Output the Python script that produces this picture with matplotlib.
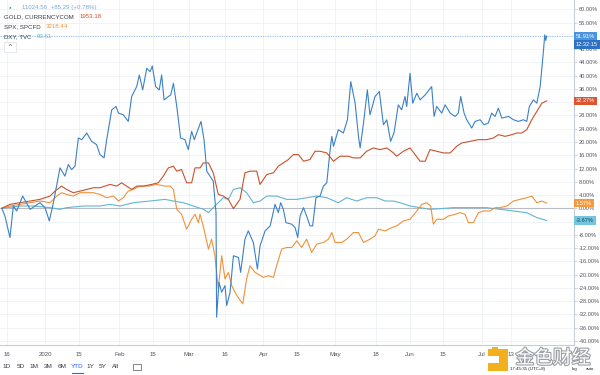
import matplotlib
matplotlib.use("Agg")
import matplotlib.pyplot as plt
import matplotlib.patheffects as pe
from matplotlib.patches import Rectangle
import numpy as np
import pandas as pd

plt.rcParams['font.family'] = ['Liberation Sans', 'DejaVu Sans', 'Noto Sans CJK SC']

BASE = pd.Timestamp('2020-01-01')

# ---- data: day offsets from 2020-01-01, percent change since start ----
btc_day = [-18, -16.7, -14.6, -13.2, -11.8, -9.3, -6.2, -2.1, 0, 1.8, 3.5, 6.25, 8.3, 9.7, 11.1, 12.5,
           13.9, 15.3, 17.4, 19.4, 21.5, 22.9, 24.6, 25.7, 27.8, 29.6, 30.6, 32.6, 34.7, 36.1, 38.2,
           39.3, 40.7, 42.4, 43.8, 44.7, 46.1, 47.6, 48.6, 49.6, 51.4, 52.4, 53.5, 54.9, 56.5, 58.3,
           59.7, 61.1, 62.2, 63.2, 65, 66.25, 67.4, 68.75, 70.1, 71.25, 71.5, 72.5, 73.6, 75, 75.7,
           77.1, 78.5, 80.6, 81.5, 83.3, 84.7, 86.8, 88.5, 89.6, 91.7, 93.8, 95.85, 97.2, 98.2, 99.3,
           100.4, 102.8, 104.2, 105.3, 106.3, 107.7, 109.0, 110.4, 111.5, 112.9, 114.6, 116.0, 117.4,
           118.8, 119.5, 120.2, 122.2, 124.3, 126.0, 127.4, 129.2, 130.6, 131.3, 132.7, 134.3, 135.4,
           137.5, 139.3, 141.0, 142.4, 144.0, 145.4, 147.2, 148.6, 150.0, 150.7, 152.1, 153.2, 154.9,
           156.3, 158.4, 161.1, 162.1, 163.2, 165.3, 166.7, 168.8, 170.9, 172.2, 173.2, 174.6, 175.7,
           177.8, 179.2, 181.3, 182.9, 184.7, 186.1, 187.5, 188.9, 190.3, 193.1, 195.2, 197.2, 199.3,
           200.7, 201.8, 203.5, 204.9, 206.3, 207.7, 208.2, 208.6, 209.0]
btc_pct = [0, -2.3, -8.8, 0.7, -0.8, 3.7, -0.3, 1.7, 0.2, -3.8, 1.7, 12.2, 9.7, 13.2, 11.7, 12.7,
           21.2, 20.7, 22.7, 20.2, 19.2, 16.2, 15.2, 20.7, 29.7, 30.7, 28.7, 28.2, 26.2, 33.7, 36.7,
           40.2, 35.7, 42.2, 41.2, 42.9, 36.7, 35.7, 40.2, 32.7, 33.7, 34.2, 37.7, 30.7, 21.2, 20.7,
           17.7, 23.2, 20.7, 22.7, 26.2, 20.7, 11.2, 9.7, 8.2, -1.3, -32.8, -22.3, -25.3, -23.3, -29.3,
           -25.3, -14.3, -14.8, -19.3, -9.3, -6.8, -10.3, -18.3, -11.3, -6.8, -5.3, 1.2, -1.3, 1.7, -0.3,
           -4.3, -4.8, -5.8, -8.8, -2.3, 0.2, -2.3, -5.3, -5.3, 3.2, 3.7, 6.7, 7.7,
           17.7, 21.7, 18.7, 23.7, 22.7, 26.7, 38.2, 31.7, 21.7, 18.2, 25.7, 35.7, 28.2,
           33.7, 35.2, 25.2, 26.7, 20.2, 22.7, 31.2, 29.7, 33.7, 30.7, 40.7, 31.7, 34.7,
           32.7, 34.2, 36.7, 27.7, 30.7, 28.7, 31.2, 28.7, 27.7, 28.7, 33.7, 28.7, 26.7,
           24.2, 26.2, 26.7, 25.2, 25.7, 28.7, 27.7, 30.2, 27.2, 27.7, 26.7, 26.2, 26.7,
           26.2, 30.7, 32.7, 31.7, 36.7, 47.7, 52.3, 50.6, 51.91]

gold_day = [-18, -14.6, -10.4, -6.2, -2.1, 2.1, 4.2, 6.9, 9.0, 11.8, 14.6, 17.4, 20.1, 22.9, 27.1,
            29.9, 31.9, 34.0, 36.1, 38.2, 41.0, 44.4, 47.2, 49.3, 51.4, 53.5, 54.9, 56.9, 59.0, 61.1,
            62.5, 64.6, 66.0, 68.1, 70.1, 72.2, 74.3, 76.4, 78.5, 81.25, 83.3, 85.4, 88.2, 89.6, 92.4,
            95.2, 97.2, 99.3, 101.4, 103.5, 105.6, 107.7, 110.4, 112.5, 114.6, 117.4, 120.2, 122.9,
            126.4, 128.5, 131.3, 134.0, 136.8, 139.6, 142.4, 145.2, 146.5, 149.3, 152.1, 154.2, 156.3,
            158.4, 160.4, 163.2, 166.0, 168.8, 171.5, 173.6, 177.1, 180.6, 184.0, 186.8, 188.9, 191.7,
            194.5, 196.5, 198.6, 200.7, 202.8, 204.9, 207.0, 209.0]
gold_pct = [0, 1.2, 1.7, 2.2, 2.7, 3.7, 5.2, 6.7, 5.7, 4.7, 5.2, 5.7, 6.2, 6.2, 7.2,
            6.7, 7.7, 6.7, 5.7, 6.7, 6.7, 7.2, 7.7, 9.7, 12.2, 12.7, 11.2, 11.7, 7.7, 7.7,
            12.2, 12.2, 13.7, 13.7, 10.7, 4.2, 3.7, 2.7, -0.1, 2.7, 10.7, 11.2, 11.2, 7.2, 10.2,
            10.7, 12.7, 13.7, 14.7, 16.2, 16.2, 14.2, 14.7, 17.2, 17.2, 16.7, 14.2, 15.7,
            15.7, 15.2, 15.2, 17.2, 18.2, 17.7, 18.2, 16.7, 15.7, 17.2, 18.2, 16.2, 14.2,
            14.2, 17.7, 17.2, 16.7, 16.7, 18.7, 19.7, 20.2, 20.7, 20.7, 21.2, 22.2, 21.7,
            22.2, 22.7, 22.7, 23.7, 26.7, 29.2, 31.7, 32.37]

spx_day = [-18, -14.6, -10.4, -6.2, -2.1, 2.1, 4.9, 6.9, 9.0, 11.8, 14.6, 17.4, 20.1, 22.9, 25.7,
           28.5, 30.6, 32.6, 34.7, 36.8, 39.6, 43.1, 46.5, 50.0, 52.1, 53.5, 54.9, 56.9, 59.0, 61.1,
           62.5, 63.9, 64.6, 66.25, 68.1, 69.4, 70.8, 72.2, 73.6, 75.0, 76.4, 77.8, 79.9, 82.4, 84.0,
           85.4, 87.5, 91.0, 93.1, 95.2, 96.5, 98.6, 100.7, 102.8, 104.9, 106.9, 109.0, 111.1, 113.2,
           116.0, 118.1, 119.5, 120.85, 123.6, 125.7, 128.5, 130.6, 132.7, 135.4, 137.5, 138.9, 141.7,
           144.5, 146.5, 149.3, 152.1, 154.9, 157.0, 159.0, 160.7, 161.8, 163.2, 166.0, 168.1, 170.9,
           172.9, 175.0, 176.4, 178.5, 180.6, 182.7, 185.4, 187.5, 189.6, 192.4, 195.2, 197.9, 200.7,
           202.8, 204.9, 207.0, 209.0]
spx_pct = [0, 0.7, 1.2, 1.7, 2.2, 1.7, 3.7, 4.7, 4.2, 3.7, 4.7, 4.7, 4.7, 4.2, 3.2,
           3.7, 2.2, 3.2, 5.2, 5.7, 6.7, 6.7, 7.2, 6.7, 6.7, 5.7, -0.3, -1.8, -6.3, -3.3,
           -1.8, -4.3, -1.8, -6.3, -12.3, -9.3, -14.3, -24.3, -14.3, -21.3, -19.3, -23.3, -26.3, -28.8, -21.3,
           -17.3, -19.3, -20.8, -20.3, -20.8, -17.3, -12.3, -11.8, -11.8, -9.8, -11.8, -9.3, -13.3, -10.8,
           -10.3, -9.3, -7.3, -10.3, -10.3, -9.3, -7.3, -7.3, -10.3, -9.3, -8.3, -6.3, -6.8,
           -5.8, -5.3, -3.8, -3.3, -0.8, 1.2, 1.7, 0.7, -4.8, -3.3, -3.3, -2.3, -1.8,
           -1.3, -1.8, -4.3, -4.3, -1.3, -0.8, -0.8, 0.2, 0.2, 0.7, 2.2, 2.7, 3.2,
           3.7, 1.7, 2.2, 1.57]

dxy_day = [-18, -10.4, -4.9, 2.1, 6.25, 9.0, 15.95, 22.9, 27.1, 31.25, 36.8, 43.75, 50.0, 53.5,
           57.6, 61.8, 66.0, 68.1, 70.1, 72.2, 74.3, 76.4, 78.5, 81.25, 84.0, 86.8, 89.6, 92.4, 96.5,
           100.7, 104.9, 109.0, 113.2, 117.4, 122.2, 125.7, 129.9, 134.0, 138.2, 141.7, 145.2, 147.9,
           152.1, 156.3, 160.4, 164.6, 170.1, 175.7, 179.9, 184.0, 189.6, 195.2, 200.7, 204.9, 209.0]
dxy_pct = [0, 0.7, 0.7, 0.2, -0.3, 0.2, 0.7, 0.7, 1.2, 0.7, 1.7, 2.2, 2.7, 2.2,
           1.7, 0.7, -0.3, -1.3, 0.2, 1.7, 3.2, 2.7, 5.7, 6.2, 4.7, 1.7, 2.2, 3.7, 3.7,
           2.7, 2.7, 3.2, 3.7, 3.2, 1.7, 3.2, 2.2, 3.2, 3.2, 2.2, 2.2, 1.7,
           0.7, 0.2, -0.3, -0.1, 0.2, 0.2, 0.2, 0.2, -0.3, -0.8, -1.3, -2.8, -3.67]

y_ticks = list(range(-40, 61, 4))
x_tick_dates = ['2019-12-16', '2020-01-01', '2020-01-15', '2020-02-01', '2020-02-15', '2020-03-01',
                '2020-03-16', '2020-04-01', '2020-04-15', '2020-05-01', '2020-05-18', '2020-06-01',
                '2020-06-15', '2020-07-01', '2020-07-13']
x_tick_labels = ['16', '2020', '15', 'Feb', '15', 'Mar', '16', 'Apr', '15', 'May', '18', 'Jun',
                 '15', 'Jul', '13']

legend_rows = [('', '11024.56  +85.29 (+0.78%)'),
               ('GOLD, CURRENCYCOM', '1953.18'),
               ('SPX, SPCFD', '3218.44'),
               ('DXY, TVC', '93.61')]
periods = ['1D', '5D', '1M', '3M', '6M', 'YTD', '1Y', '5Y', 'All']

C_BTC = '#3b80c8'
C_GOLD = '#c9522b'
C_SPX = '#f0913a'
C_DXY = '#62b4d6'


def to_dates(days):
    return BASE + pd.to_timedelta(np.asarray(days, dtype=float), unit='D')


W, H = 600, 375
fig = plt.figure(figsize=(W / 100, H / 100), dpi=100)
ax = fig.add_axes([0, 1 - 345 / H, 574 / W, 345 / H])

xmin = BASE + pd.to_timedelta(-18.75, unit='D')
xmax = BASE + pd.to_timedelta(220.4, unit='D')
ax.set_xlim(xmin, xmax)
ax.set_ylim(-41.2, 62.8)

# grid
for t in y_ticks:
    ax.axhline(t, color='#eef1f6', lw=0.6, zorder=0)
for d in x_tick_dates:
    ax.axvline(pd.Timestamp(d), color='#eef1f6', lw=0.6, zorder=0)

ax.axhline(0, color='#b8bcc4', lw=0.8, zorder=1)
ax.axhline(btc_pct[-1], color='#8fb6e0', lw=0.7, ls=(0, (1, 1.5)), zorder=1)

ax.plot(to_dates(dxy_day), dxy_pct, color=C_DXY, lw=0.8, zorder=2)
ax.plot(to_dates(spx_day), spx_pct, color=C_SPX, lw=0.8, zorder=3)
ax.plot(to_dates(gold_day), gold_pct, color=C_GOLD, lw=0.8, zorder=4)
ax.plot(to_dates(btc_day), btc_pct, color=C_BTC, lw=0.8, zorder=5)

# axes styling
for s in ['top', 'left']:
    ax.spines[s].set_visible(False)
ax.spines['right'].set_color('#c8ccd4')
ax.spines['bottom'].set_color('#c8ccd4')
ax.spines['right'].set_linewidth(0.8)
ax.spines['bottom'].set_linewidth(0.8)
ax.yaxis.tick_right()
ax.set_yticks(y_ticks)
# tick labels that sit behind a value badge are hidden, as on the original chart
last_vals = [btc_pct[-1], gold_pct[-1], dxy_pct[-1]]
ylabels = ['' if any(abs(t - v) < 1.0 for v in last_vals) else f'{t:.2f}%' for t in y_ticks]
ax.set_yticklabels(ylabels)
ax.tick_params(axis='y', labelsize=4.1, colors='#c8ccd4', labelcolor='#50535e', length=2.5,
               width=0.6, pad=1.0)
ax.set_xticks([pd.Timestamp(d) for d in x_tick_dates])
ax.set_xticklabels(x_tick_labels)
ax.tick_params(axis='x', labelsize=4.4, colors='#c8ccd4', labelcolor='#50535e', length=0, pad=5)


# right-side badges
def badge(val, text, face, tcolor='white', dy=0.0):
    ax.annotate(text, xy=(1, val), xycoords=('axes fraction', 'data'),
                xytext=(1.5, dy), textcoords='offset points', ha='left', va='center',
                fontsize=4.1, color=tcolor, zorder=10, annotation_clip=False,
                bbox=dict(boxstyle='square,pad=0.3', fc=face, ec='none'))


badge(btc_pct[-1], f'{btc_pct[-1]:.2f}%', '#4a94e0')
badge(btc_pct[-1], '12:32:15', '#2f72c2', dy=-5.9)
badge(gold_pct[-1], f'{gold_pct[-1]:.2f}%', '#db5630')
badge(spx_pct[-1], f'{spx_pct[-1]:.2f}%', '#f39a3e')
badge(dxy_pct[-1], f'{dxy_pct[-1]:.2f}%', '#72c6e0', tcolor='#1d3f52')

# legend (top-left)
fs = 4.4
fig.text(10 / W, 1 - 7 / H, '●', fontsize=3.2, color='#3aa37a', va='center', ha='center')
fig.text(22 / W, 1 - 7 / H, legend_rows[0][1], fontsize=fs, color='#79a9d6', va='center')
name_colors = [None, C_GOLD, C_SPX, C_DXY]
for i in range(1, 4):
    y = 1 - (7 + 10 * i) / H
    nt = fig.text(4 / W, y, legend_rows[i][0], fontsize=fs, color='#363a45', va='center')
    fig.add_artist(plt.Annotation(legend_rows[i][1], xy=(1, 0.5), xycoords=nt,
                                  xytext=(4, 0), textcoords='offset points', va='center',
                                  fontsize=fs, color=name_colors[i]))
fig.patches.append(Rectangle((4 / W, 1 - 52 / H), 12 / W, 10 / H, transform=fig.transFigure,
                             fc='white', ec='#dadde3', lw=0.5, zorder=5))
fig.text(10 / W, 1 - 47 / H, '^', fontsize=4.5, color='#363a45', ha='center', va='center',
         zorder=6)

# bottom toolbar
px = [7, 21, 34, 48, 62, 77, 90, 103, 115]
for label, x in zip(periods, px):
    c = '#2962ff' if label == 'YTD' else '#363a45'
    fig.text(x / W, 1 - 367 / H, label, fontsize=4.6, color=c, ha='center', va='center')
fig.add_artist(plt.Line2D([71.5 / W, 82.5 / W], [1 - 372.5 / H, 1 - 372.5 / H], color='#2962ff',
                          lw=0.8, transform=fig.transFigure))
fig.patches.append(Rectangle((133 / W, 1 - 370 / H), 8 / W, 6 / H, transform=fig.transFigure,
                             fc='none', ec='#50535e', lw=0.5))

# watermark
fig.patches.append(Rectangle((488 / W, 1 - 371 / H), 20 / W, 22 / H, transform=fig.transFigure,
                             fc='#f2b01e', ec='none', zorder=8))
fig.patches.append(Rectangle((488 / W, 1 - 363 / H), 11 / W, 7 / H, transform=fig.transFigure,
                             fc='white', ec='none', zorder=9))
fig.patches.append(Rectangle((492 / W, 1 - 352 / H), 6 / W, 5 / H, transform=fig.transFigure,
                             fc='#f2b01e', ec='none', zorder=9))
wm = fig.text(553 / W, 1 - 358 / H, '金色财经', fontsize=13.5, color='white', ha='center',
              va='center', family=['Noto Sans CJK SC'], zorder=9)
wm.set_path_effects([pe.withStroke(linewidth=1.6, foreground='#9a9ea6')])
fig.text(527 / W, 1 - 369 / H, '17:45:35 (UTC+8)', fontsize=3.2, color='#202020', ha='center',
         va='center', zorder=10)
fig.text(575 / W, 1 - 369 / H, 'log', fontsize=3.2, color='#202020', ha='center', va='center',
         zorder=10)
fig.text(590 / W, 1 - 369 / H, 'auto', fontsize=3.2, color='#202020', ha='center', va='center',
         zorder=10)

fig.savefig('out.png', dpi=100)
